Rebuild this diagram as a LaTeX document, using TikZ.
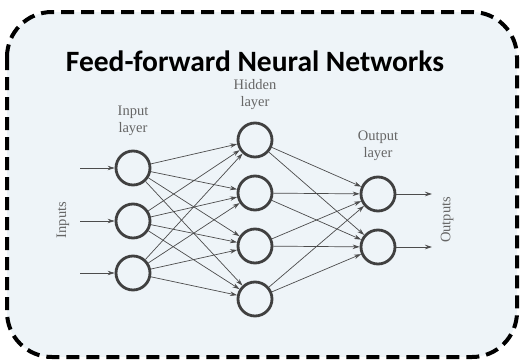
\documentclass[tikz,border=0pt]{standalone}
\usepackage{fontspec}
\setmainfont{Liberation Serif}
\newfontfamily\titlefont{Carlito}
\usetikzlibrary{arrows.meta}

\definecolor{panelbg}{HTML}{EEF4F8}

\begin{document}
\begin{tikzpicture}[x=1pt, y=-1pt, >={Stealth[length=7pt, width=4.5pt]},
    neuron/.style={circle, draw=black!75, line width=2.8pt, minimum size=34pt, inner sep=0pt},
    link/.style={->, draw=black!70, line width=0.7pt},
    lbl/.style={text=black!60, font=\fontsize{14.5}{17}\selectfont, align=center, inner sep=0pt}]
    \useasboundingbox (0,0) rectangle (520,362);

    % Dashed frame
    \draw[line width=4pt, dash pattern=on 13pt off 7pt, rounded corners=45pt, fill=panelbg]
        (7,12) rectangle (517,357);
    \node[font=\titlefont\bfseries\fontsize{29.5}{32}\selectfont, inner sep=0pt] (title) at (255,61) {Feed-forward Neural Networks};

    % Input layer
    \node[neuron] (i1) at (133,168) {};
    \node[neuron] (i2) at (133,221) {};
    \node[neuron] (i3) at (133,273) {};
    \node[lbl] (ilbl) at (133,121) {Input\\layer};

    % Hidden layer
    \node[neuron] (h1) at (255,140) {};
    \node[neuron] (h2) at (255,193) {};
    \node[neuron] (h3) at (255,246) {};
    \node[neuron] (h4) at (255,299) {};
    \node[lbl] (hlbl) at (255,95) {Hidden\\layer};

    % Output layer
    \node[neuron] (o1) at (378,194) {};
    \node[neuron] (o2) at (378,247) {};
    \node[lbl] (olbl) at (378,146) {Output\\layer};

    % Inputs and outputs
    \coordinate (x1) at (80,168);
    \coordinate (x2) at (80,221);
    \coordinate (x3) at (80,273);
    \coordinate (y1) at (432,194);
    \coordinate (y2) at (432,247);
    \foreach \k in {1,2,3} \draw[link] (x\k) -- (i\k);
    \foreach \k in {1,2} \draw[link] (o\k) -- (y\k);
    \node[lbl, rotate=90] (inlbl) at (63,220) {Inputs};
    \node[lbl, rotate=90] (outlbl) at (447,220) {Outputs};

    % Connections
    \foreach \a in {1,2,3}
        \foreach \b in {1,...,4}
            \draw[link] (i\a) -- (h\b);
    \foreach \a in {1,...,4}
        \foreach \b in {1,2}
            \draw[link] (h\a) -- (o\b);
\end{tikzpicture}
\end{document}
